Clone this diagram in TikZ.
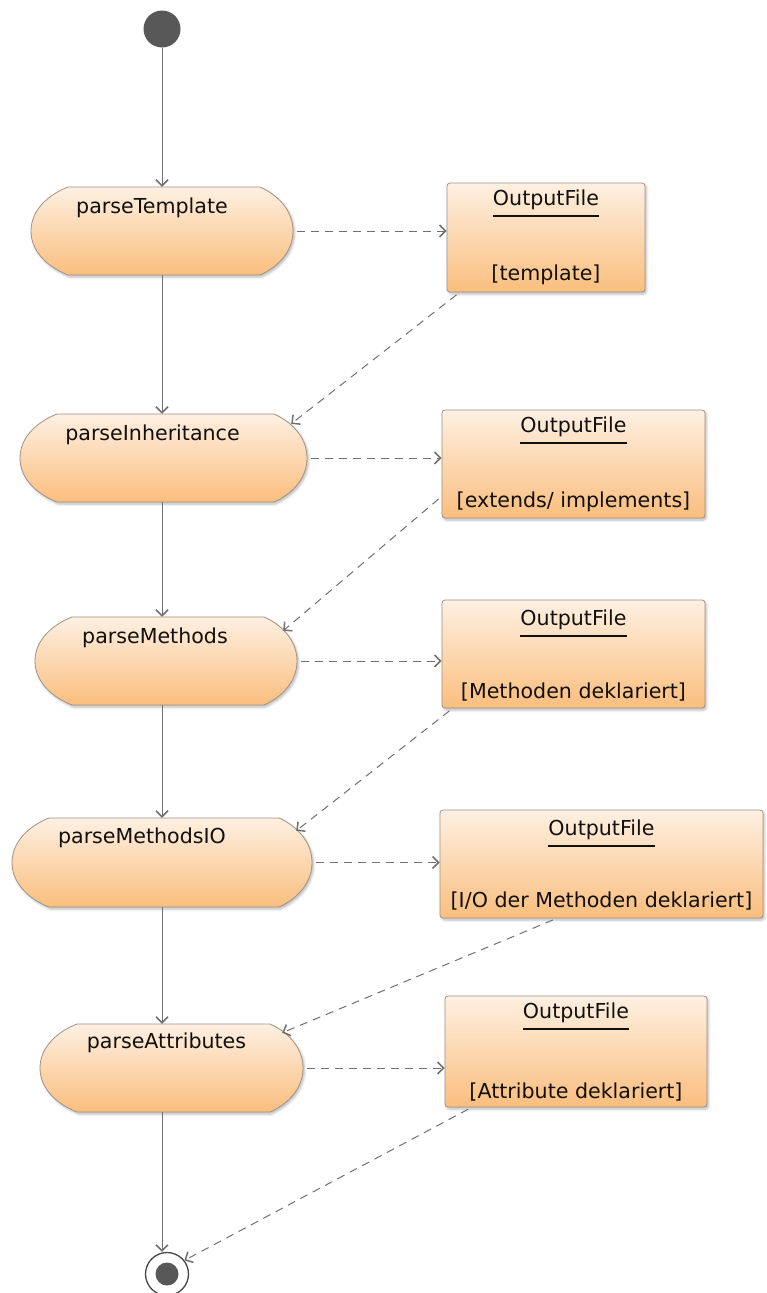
\documentclass[tikz,border=0pt]{standalone}
\usepackage{fontspec}
\setmainfont{DejaVu Sans}
\usetikzlibrary{arrows.meta,shadows.blur}

\definecolor{actTop}{RGB}{254,240,226}
\definecolor{actBot}{RGB}{250,190,126}
\definecolor{edgeC}{RGB}{160,146,132}
\definecolor{flowC}{RGB}{112,112,112}
\definecolor{inkC}{RGB}{18,16,14}
\definecolor{dotC}{RGB}{88,88,88}

% object name with a heavy rule beneath it
\newsavebox\objnamebox
\newcommand\objtitle[1]{\sbox\objnamebox{#1}%
  \smash{\rlap{\rule[-11.5pt]{\wd\objnamebox}{2pt}}}\usebox\objnamebox}
% object node body: name, gap, state
\newcommand\objtext[3]{\begin{tabular}[t]{@{}c@{}}\objtitle{#1}\\[#3]#2\end{tabular}}

% action node: outline with flat top and bottom and tapered rounded ends,
% then the node itself carrying the label
% [options]{name}{x}{y}{width}{height}{label}
\newcommand\actnode[7][]{%
  \path[actfill]
    (#3-#5/2+37, #4+#6/2) -- (#3+#5/2-33, #4+#6/2)
    .. controls (#3+#5/2-17, #4+#6/2-7) and (#3+#5/2, #4+22) .. (#3+#5/2, #4)
    .. controls (#3+#5/2, #4-22) and (#3+#5/2-17, #4-#6/2+7) .. (#3+#5/2-33, #4-#6/2)
    -- (#3-#5/2+37, #4-#6/2)
    .. controls (#3-#5/2+19, #4-#6/2+7) and (#3-#5/2, #4-22) .. (#3-#5/2, #4)
    .. controls (#3-#5/2, #4+22) and (#3-#5/2+19, #4+#6/2-7) .. cycle;
  \node[act, minimum width=#5pt, minimum height=#6pt, #1] (#2) at (#3,#4) {#7};}

\tikzset{
  softshadow/.style={blur shadow={shadow xshift=1.5pt, shadow yshift=-2pt,
      shadow blur radius=2.5pt, shadow opacity=28}},
  actfill/.style={draw=edgeC, line width=0.8pt, top color=actTop,
    bottom color=actBot, softshadow},
  act/.style={rectangle, inner xsep=0pt, inner ysep=0pt,
    text height=26pt, text depth=62pt,
    font=\fontsize{20.6}{24}\selectfont, text=inkC},
  obj/.style={rectangle, rounded corners=3pt,
    draw=edgeC, line width=0.8pt, top color=actTop, bottom color=actBot,
    softshadow, inner sep=0pt, text height=22pt,
    font=\fontsize{20.6}{24}\selectfont, text=inkC},
  startdot/.style={circle, fill=dotC, minimum size=37pt, inner sep=0pt},
  enddot/.style={circle, draw=dotC!80!black, line width=1.3pt, fill=white,
    minimum size=43pt, inner sep=0pt,
    path picture={\fill[dotC] (path picture bounding box.center) circle (11.5pt);}},
  flow/.style={draw=flowC, line width=1pt,
    -{Straight Barb[length=6pt,width=12pt,line width=1.5pt]}},
  dep/.style={flow, dash pattern=on 8pt off 6pt, shorten <=4pt},
}

\begin{document}
\begin{tikzpicture}[x=1pt,y=1pt]
\useasboundingbox (0,0) rectangle (766,-1293);

% control flow nodes
\node[startdot] (st) at (162,-29) {};
\actnode{a1}{162}{-231}{262}{88}{\kern-20pt parseTemplate}
\actnode{a2}{163.5}{-458}{287}{88}{\kern-22pt parseInheritance}
\actnode{a3}{166}{-661}{262}{88}{\kern-22pt parseMethods}
\actnode[text height=25pt, text depth=64pt]{a4}{162}{-862.5}{300}{89}{\kern-40pt parseMethodsIO}
\actnode[text height=24pt, text depth=64pt]{a5}{171.5}{-1068}{263}{88}{\kern-10pt parseAttributes}
\node[enddot] (en) at (167,-1274) {};

% object nodes
\node[obj, minimum width=198pt, text depth=87pt] (b1) at (546,-237.5)
  {\objtext{OutputFile}{[template]}{51pt}};
\node[obj, minimum width=263pt, text depth=86pt] (b2) at (573.5,-464)
  {\objtext{OutputFile}{[extends/ implements]}{51pt}};
\node[obj, minimum width=263pt, text height=25pt, text depth=83pt] (b3) at (573.5,-654)
  {\objtext{OutputFile}{[Methoden deklariert]}{49pt}};
\node[obj, minimum width=323pt, text height=25pt, text depth=83pt] (b4) at (601.5,-864)
  {\objtext{OutputFile}{[I/O der Methoden deklariert]}{48pt}};
\node[obj, minimum width=262pt, text depth=89pt] (b5) at (576,-1051.5)
  {\objtext{OutputFile}{[Attribute deklariert]}{56pt}};

% landing points of the object flows on the action outlines
\coordinate (in2) at ([shift={(-16,-10)}]a2.north east);
\coordinate (in3) at ([shift={(-14,-14)}]a3.north east);
\coordinate (in4) at ([shift={(-16,-13)}]a4.north east);
\coordinate (in5) at ([shift={(-21,-9)}]a5.north east);

% control flow
\draw[flow] (st) -- (a1.north -| st);
\draw[flow] (a1.south -| st) -- (a2.north -| st);
\draw[flow] (a2.south -| st) -- (a3.north -| st);
\draw[flow] (a3.south -| st) -- (a4.north -| st);
\draw[flow] (a4.south -| st) -- (a5.north -| st);
\draw[flow] (a5.south -| st) -- (en.north -| st);

% object flow: action to produced object
\draw[dep] (a1.east) -- (a1.east -| b1.west);
\draw[dep] (a2.east) -- (a2.east -| b2.west);
\draw[dep] (a3.east) -- (a3.east -| b3.west);
\draw[dep] (a4.east) -- (a4.east -| b4.west);
\draw[dep] (a5.east) -- (a5.east -| b5.west);

% object flow: object consumed by next action
\draw[dep] ([xshift=13pt]b1.south west) -- (in2);
\draw[dep] ([yshift=22pt]b2.south west) -- (in3);
\draw[dep] ([xshift=11pt]b3.south west) -- (in4);
\draw[dep] ([xshift=117pt]b4.south west) -- (in5);
\draw[dep] ([xshift=27pt]b5.south west) -- (en.38);
\end{tikzpicture}
\end{document}
